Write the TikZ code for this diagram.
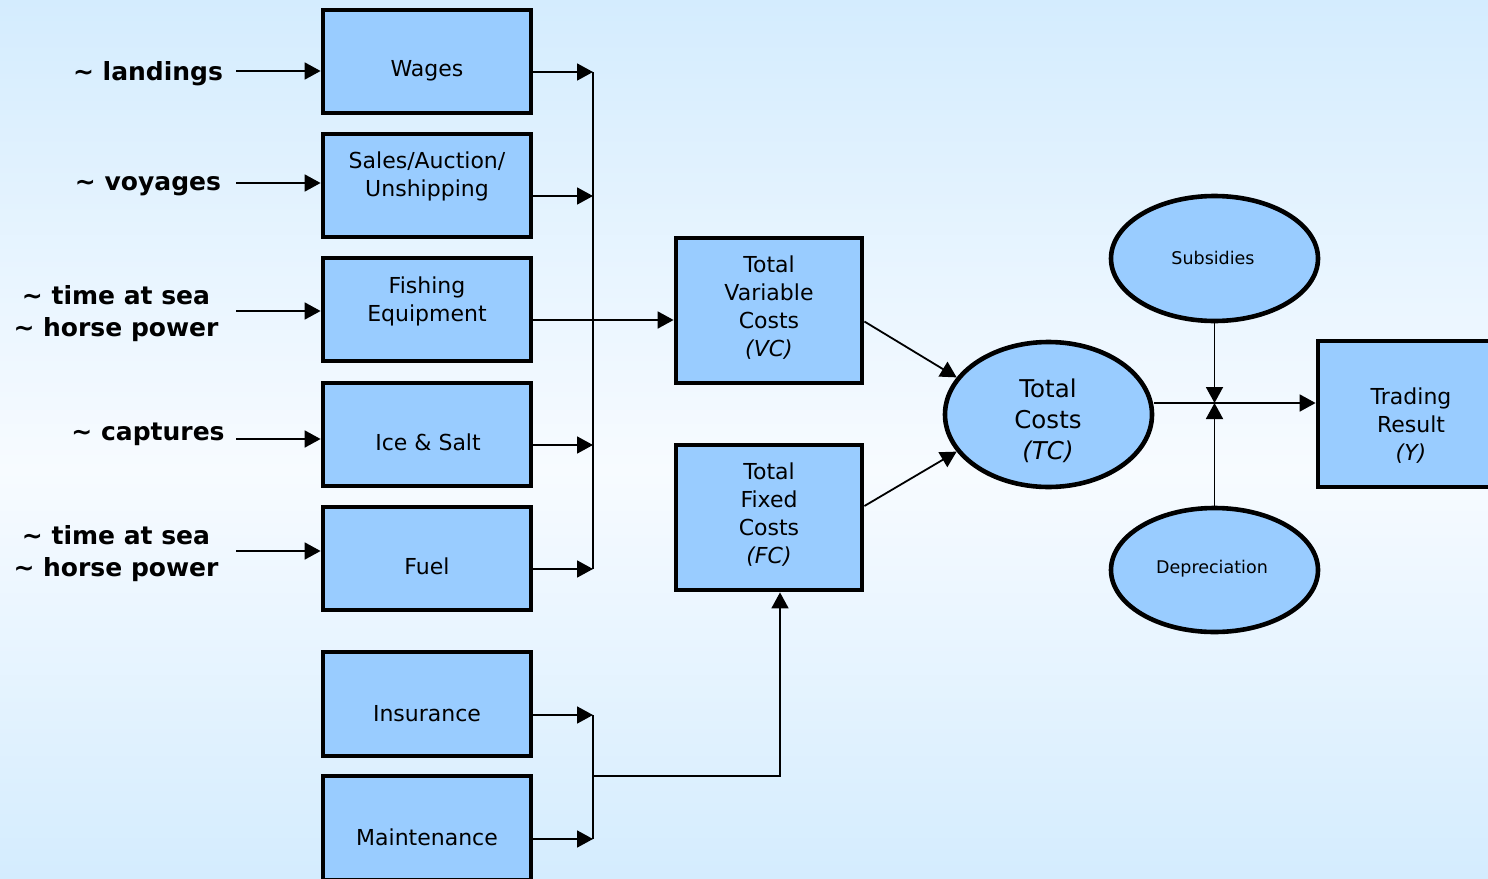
\documentclass[tikz,border=0pt]{standalone}
\usepackage{fontspec}
\setmainfont{DejaVu Sans}
\usetikzlibrary{arrows.meta,shapes.geometric,calc}
\definecolor{boxblue}{HTML}{99CCFF}
\definecolor{bgblue}{HTML}{D4ECFE}
\definecolor{bgwhite}{HTML}{F7FBFF}

\begin{document}
\begin{tikzpicture}[x=1pt,y=-1pt,
  box/.style={draw=black, line width=4.8pt, fill=boxblue, inner sep=0pt,
              minimum width=208pt, minimum height=103pt},
  bigbox/.style={box, minimum width=186pt, minimum height=145pt},
  oval/.style={ellipse, draw=black, line width=4.6pt, fill=boxblue, inner sep=0pt,
               minimum width=207pt, minimum height=125pt},
  txt/.style={align=center, inner sep=0pt, yshift=-2.5pt, font=\fontsize{22}{28}\selectfont},
  bigtxt/.style={txt, font=\fontsize{24.5}{31}\selectfont},
  smalltxt/.style={txt, yshift=1pt, font=\fontsize{17.5}{21}\selectfont},
  lbl/.style={align=center, inner sep=0pt, yshift=-3pt, font=\fontsize{25}{32}\selectfont\bfseries},
  conn/.style={line width=1.8pt, -{Triangle[length=16pt,width=17pt]}},
  wire/.style={line width=1.8pt},
]
% page and background
\useasboundingbox (0,0) rectangle (1488,878);
\clip (0,0) rectangle (1488,878);
\shade[top color=bgblue, bottom color=bgwhite] (0,0) rectangle (1488,470);
\shade[top color=bgwhite, bottom color=bgblue] (0,470) rectangle (1488,878);

% cost items
\node[box] (wages) at (427,61.5) {};
\node[txt] (wages-t) at (427,68) {Wages};
\node[box] (sales) at (427,185.5) {};
\node[txt] (sales-t) at (427,174) {Sales/Auction/\\Unshipping};
\node[box] (fish) at (427,309.5) {};
\node[txt] (fish-t) at (427,298.5) {Fishing\\Equipment};
\node[box] (ice) at (427,434.5) {};
\node[txt] (ice-t) at (428,440) {Ice \& Salt};
\node[box] (fuel) at (427,558.5) {};
\node[txt] (fuel-t) at (427,564) {Fuel};
\node[box, minimum height=104pt] (ins) at (427,704) {};
\node[txt] (ins-t) at (427,711) {Insurance};
\node[box, minimum height=104pt] (maint) at (427,828) {};
\node[txt] (maint-t) at (427,835) {Maintenance};

% drivers
\node[lbl] (l-land) at (148,71) {\textasciitilde{} landings};
\node[lbl] (l-voy) at (148,183) {\textasciitilde{} voyages};
\node[lbl] (l-sea1) at (116,311) {\textasciitilde{} time at sea\\\textasciitilde{} horse power};
\node[lbl] (l-cap) at (148,431) {\textasciitilde{} captures};
\node[lbl] (l-sea2) at (116,551) {\textasciitilde{} time at sea\\\textasciitilde{} horse power};

\coordinate (d1) at (236,71);
\coordinate (d2) at (236,183);
\coordinate (d3) at (236,311);
\coordinate (d4) at (236,439);
\coordinate (d5) at (236,551);
\draw[conn] (d1) -- (d1 -| wages.west);
\draw[conn] (d2) -- (d2 -| sales.west);
\draw[conn] (d3) -- (d3 -| fish.west);
\draw[conn] (d4) -- (d4 -| ice.west);
\draw[conn] (d5) -- (d5 -| fuel.west);

% totals
\node[bigbox] (tvc) at (769,310.5) {};
\node[txt] (tvc-t) at (769,305) {Total\\Variable\\Costs\\\itshape(VC)};
\node[bigbox] (tfc) at (769,517.5) {};
\node[txt] (tfc-t) at (769,512.5) {Total\\Fixed\\Costs\\\itshape(FC)};
\node[oval, minimum height=145pt] (tc) at (1048.5,414.5) {};
\node[bigtxt] (tc-t) at (1048,418) {Total\\Costs\\\itshape(TC)};
\node[oval] (subs) at (1214.5,258.5) {};
\node[smalltxt] (subs-t) at (1213,256) {Subsidies};
\node[oval, minimum height=124pt] (dep) at (1214.5,570) {};
\node[smalltxt] (dep-t) at (1212,567) {Depreciation};
\node[bigbox, minimum height=146pt] (tr) at (1411,414) {};
\node[txt] (tr-t) at (1411,423.5) {Trading\\Result\\\itshape(Y)};

% variable cost collector
\coordinate (b1) at (593,72);
\coordinate (b2) at (593,196);
\coordinate (b3) at (593,445);
\coordinate (b4) at (593,569);
\coordinate (bf) at (593,320);
\draw[conn] (wages.east |- b1) -- (b1);
\draw[conn] (sales.east |- b2) -- (b2);
\draw[conn] (ice.east |- b3) -- (b3);
\draw[conn] (fuel.east |- b4) -- (b4);
\draw[wire] (b1) -- (b4);
\draw[conn] (fish.east |- bf) -- (tvc.west |- bf);

% fixed cost collector
\coordinate (c1) at (593,715);
\coordinate (c2) at (593,839);
\coordinate (cj) at (593,776);
\draw[conn] (ins.east |- c1) -- (c1);
\draw[conn] (maint.east |- c2) -- (c2);
\draw[wire] (c1) -- (c2);
\draw[conn] (cj) -| ([xshift=11pt]tfc.south);

% into total costs
\draw[conn] ([yshift=-11pt]tvc.east) -- (tc.158);
\draw[conn] ([yshift=11.5pt]tfc.east) -- (tc.202);

% trading result
\coordinate (j) at (1214.5,403);
\draw[wire] (tc.east |- j) -- (j);
\draw[conn] (j) -- (j -| tr.west);
\draw[conn] (subs.south) -- (j);
\draw[conn] (dep.north) -- (j);
\end{tikzpicture}
\end{document}
